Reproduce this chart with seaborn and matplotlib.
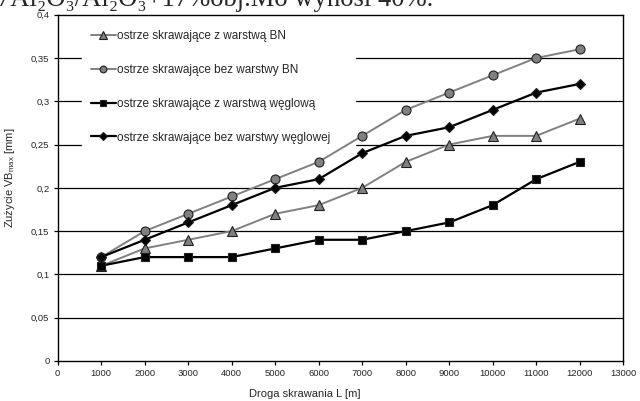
import numpy as np
import pandas as pd
import seaborn as sns
import matplotlib
matplotlib.use("Agg")
import matplotlib.pyplot as plt
from matplotlib.ticker import FuncFormatter

distance = [1000, 2000, 3000, 4000, 5000, 6000, 7000, 8000, 9000, 10000, 11000, 12000]
bn_layer = [0.11, 0.13, 0.14, 0.15, 0.17, 0.18, 0.20, 0.23, 0.25, 0.26, 0.26, 0.28]
no_bn = [0.12, 0.15, 0.17, 0.19, 0.21, 0.23, 0.26, 0.29, 0.31, 0.33, 0.35, 0.36]
carbon_layer = [0.11, 0.12, 0.12, 0.12, 0.13, 0.14, 0.14, 0.15, 0.16, 0.18, 0.21, 0.23]
no_carbon = [0.12, 0.14, 0.16, 0.18, 0.20, 0.21, 0.24, 0.26, 0.27, 0.29, 0.31, 0.32]

labels = [
    "ostrze skrawające z warstwą BN",
    "ostrze skrawające bez warstwy BN",
    "ostrze skrawające z warstwą węglową",
    "ostrze skrawające bez warstwy węglowej",
]
x_ticks = list(range(0, 13001, 1000))
y_ticks = [0, 0.05, 0.1, 0.15, 0.2, 0.25, 0.3, 0.35, 0.4]

sns.set_theme(style="white")
plt.rcParams["font.family"] = ["Liberation Sans", "DejaVu Sans"]

df = pd.concat([
    pd.DataFrame({"L": distance, "VB": vals, "seria": lab})
    for vals, lab in zip([bn_layer, no_bn, carbon_layer, no_carbon], labels)
])

fig = plt.figure(figsize=(6.4, 4.01), dpi=100)
ax = fig.add_axes([0.0902, 0.0998, 0.8835, 0.8636])

line_colors = ["#808080", "#808080", "#000000", "#000000"]
face_colors = ["#808080", "#808080", "#000000", "#000000"]
markers = ["^", "o", "s", "D"]
msizes = [7, 6.5, 6, 5.2]
lws = [1.4, 1.4, 1.6, 1.6]

for lab, lc, fc, mk, ms, lw in zip(labels, line_colors, face_colors, markers, msizes, lws):
    sub = df[df["seria"] == lab]
    sns.lineplot(data=sub, x="L", y="VB", ax=ax, color=lc, marker=mk,
                 markersize=ms, markerfacecolor=fc, markeredgecolor="#202020",
                 markeredgewidth=0.8, linewidth=lw, label=lab, zorder=3,
                 errorbar=None)

ax.set_xlim(0, 13000)
ax.set_ylim(0, 0.4)
ax.set_xticks(x_ticks)
ax.set_yticks(y_ticks)
fmt = lambda v, p: ("%g" % round(v, 2)).replace(".", ",")
ax.yaxis.set_major_formatter(FuncFormatter(fmt))
ax.xaxis.set_major_formatter(FuncFormatter(lambda v, p: "%d" % v))
for y in y_ticks[1:-1]:
    ax.axhline(y, color="black", linewidth=0.9, zorder=1)

for s in ax.spines.values():
    s.set_color("black")
    s.set_linewidth(1.0)
ax.tick_params(axis="both", which="major", direction="out", length=3,
               width=0.9, color="black", labelsize=6.8, pad=3, bottom=True, left=True)

ax.set_xlabel("Droga skrawania L [m]", fontsize=8)
ax.set_ylabel("Zużycie VB$_{\\mathregular{max}}$ [mm]", fontsize=8)
ax.xaxis.set_label_coords((305 - 57.7) / 565.3, -0.08)
ax.yaxis.set_label_coords(-0.072, (361 - 178) / 346.3)

leg = ax.legend(loc="upper left", bbox_to_anchor=(0.043, 0.609, 0.483, 0.372),
                mode="expand", frameon=True, markerscale=0.75,
                fontsize=8.5, labelspacing=1.85, handlelength=2.1, handletextpad=0.1,
                borderpad=0.75, borderaxespad=0)
leg.get_frame().set_facecolor("white")
leg.get_frame().set_edgecolor("white")
leg.get_frame().set_alpha(1)
leg.get_frame().set_boxstyle("square", pad=0)
leg.set_zorder(2)

fig.text(-0.004, 0.986, "7Al₂O₃/Al₂O₃+17%obj.Mo wynosi 40%.",
         family=["Liberation Serif", "DejaVu Serif"], fontsize=19.2, va="baseline", ha="left")

fig.savefig("out.png", dpi=100, facecolor="white")
